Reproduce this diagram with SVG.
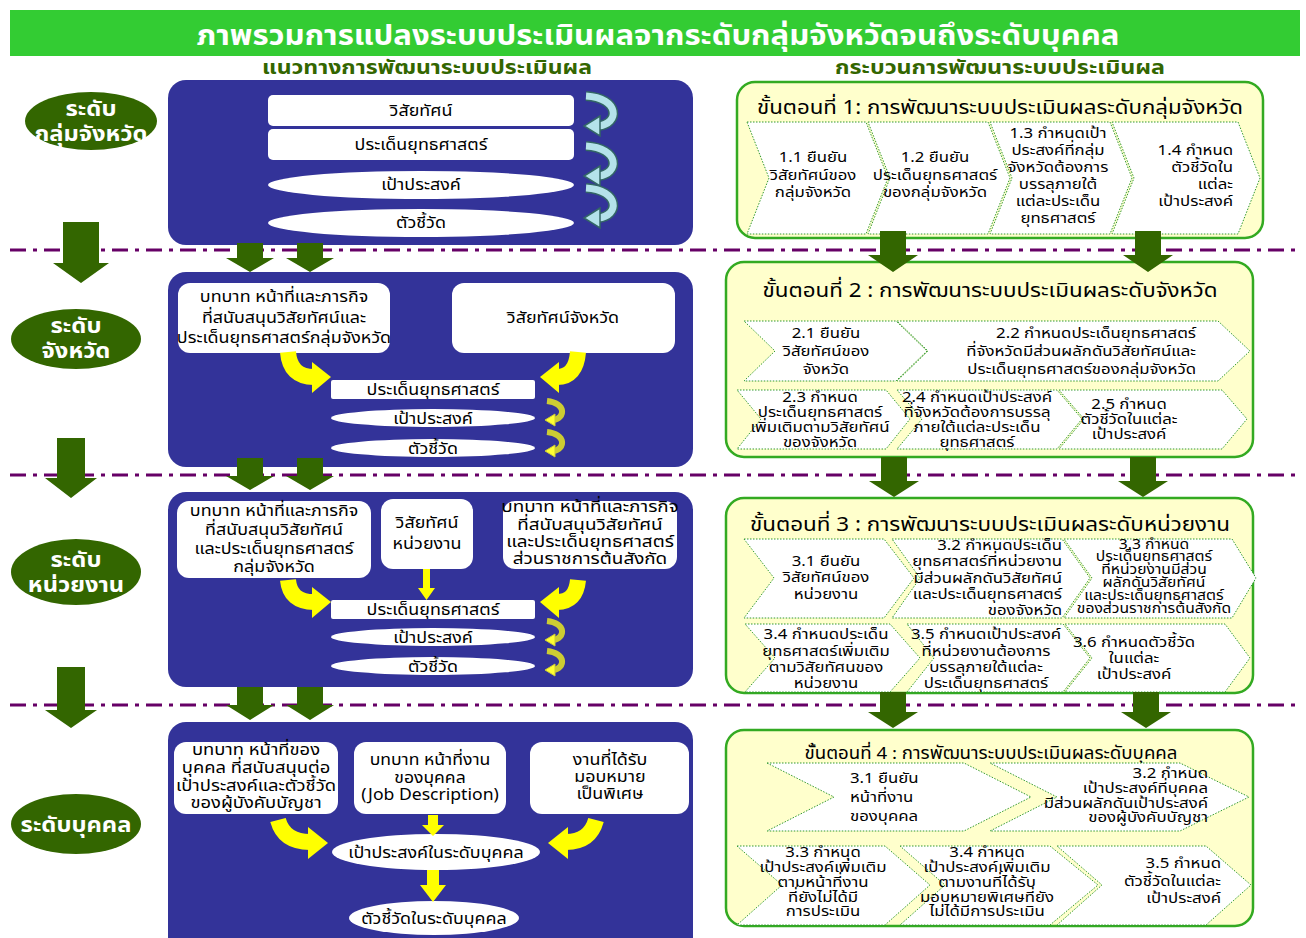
<svg xmlns="http://www.w3.org/2000/svg" width="1306" height="938" viewBox="0 0 1306 938">
<style>
text{font-family:Tahoma,"Noto Sans Thai","Noto Sans","DejaVu Sans",sans-serif;fill:#000}
.blk{fill:#333399}
.wb{fill:#fff}
.lt{font-size:16px;text-anchor:middle}
.step{fill:#ffffcc;stroke:#33aa22;stroke-width:2.5}
.chev{fill:#fff;stroke:#339933;stroke-width:1;stroke-dasharray:1.5 1.5}
.ct{font-size:15px;text-anchor:middle}
.cr{font-size:15px;text-anchor:end}
.cl{font-size:15px;text-anchor:start}
.st{font-size:20px;text-anchor:middle}
.gar{fill:#336600}
.dash{stroke:#660066;stroke-width:3;stroke-dasharray:16 7 4 7;fill:none}
.ya{stroke:#ffff00;fill:none;stroke-width:16}
.yh{fill:#ffff00}
.ys{stroke:#cccc33;fill:none;stroke-width:6}
.ysh{fill:#ffff33;stroke:#cccc33;stroke-width:1}
.bo{stroke:#336666;fill:none;stroke-width:10}
.bi{stroke:#b4e2ea;fill:none;stroke-width:7}
.bh{fill:#b4e2ea;stroke:#336666;stroke-width:1.5}
.lv{fill:#336600}
.lvt{font-size:22px;font-weight:bold;text-anchor:middle;fill:#fff}
.hd{font-size:20px;font-weight:bold;text-anchor:middle;fill:#336600}
</style>

<rect x="10" y="10" width="1290" height="46" fill="#33cc33"/>
<text x="658" y="45" font-size="28" font-weight="bold" text-anchor="middle" textLength="923" lengthAdjust="spacingAndGlyphs" style="fill:#fff">ภาพรวมการแปลงระบบประเมินผลจากระดับกลุ่มจังหวัดจนถึงระดับบุคคล</text>
<text class="hd" x="427" y="74" textLength="330" lengthAdjust="spacingAndGlyphs">แนวทางการพัฒนาระบบประเมินผล</text>
<text class="hd" x="1000" y="74" textLength="330" lengthAdjust="spacingAndGlyphs">กระบวนการพัฒนาระบบประเมินผล</text>

<g id="dividers">
<line class="dash" x1="10" y1="250" x2="1300" y2="250"/>
<line class="dash" x1="10" y1="475" x2="1300" y2="475"/>
<line class="dash" x1="10" y1="705" x2="1300" y2="705"/>
</g>

<g id="level-1"><ellipse class="lv" cx="91" cy="121" rx="66" ry="29"/><g transform="translate(91 0) scale(1.08 1)"><text class="lvt" y="116">ระดับ</text><text class="lvt" y="141">กลุ่มจังหวัด</text></g></g>
<g id="level-2"><ellipse class="lv" cx="76" cy="339" rx="65" ry="30"/><g transform="translate(76 0) scale(1.08 1)"><text class="lvt" y="333">ระดับ</text><text class="lvt" y="358">จังหวัด</text></g></g>
<g id="level-3"><ellipse class="lv" cx="76" cy="572" rx="65" ry="33"/><g transform="translate(76 0) scale(1.08 1)"><text class="lvt" y="567">ระดับ</text><text class="lvt" y="592">หน่วยงาน</text></g></g>
<g id="level-4"><ellipse class="lv" cx="76" cy="824" rx="65" ry="30"/><g transform="translate(76 0) scale(1.08 1)"><text class="lvt" y="832">ระดับบุคคล</text></g></g>

<g id="block-1">
<rect class="blk" x="168" y="80" width="525" height="165" rx="18"/>
<rect class="wb" x="268" y="95" width="306" height="31" rx="5"/>
<rect class="wb" x="268" y="129" width="306" height="31" rx="5"/>
<ellipse class="wb" cx="421" cy="185" rx="153" ry="14"/>
<ellipse class="wb" cx="421" cy="223" rx="153" ry="14"/>
<g transform="translate(421 0) scale(1.12 1)"><text class="lt" y="116">วิสัยทัศน์</text><text class="lt" y="150">ประเด็นยุทธศาสตร์</text><text class="lt" y="190">เป้าประสงค์</text><text class="lt" y="228">ตัวชี้วัด</text></g>
</g>

<g id="block-2">
<rect class="blk" x="168" y="272" width="525" height="195" rx="18"/>
<rect class="wb" x="178" y="283" width="212" height="70" rx="12"/>
<g transform="translate(284 0) scale(1.12 1)"><text class="lt" y="302">บทบาท หน้าที่และภารกิจ</text><text class="lt" y="323">ที่สนับสนุนวิสัยทัศน์และ</text><text class="lt" y="343">ประเด็นยุทธศาสตร์กลุ่มจังหวัด</text></g>
<rect class="wb" x="452" y="283" width="223" height="70" rx="12"/>
<g transform="translate(563 0) scale(1.12 1)"><text class="lt" y="323">วิสัยทัศน์จังหวัด</text></g>
<rect class="wb" x="331" y="380" width="204" height="19" rx="2"/>
<ellipse class="wb" cx="433" cy="418" rx="102" ry="9"/>
<ellipse class="wb" cx="433" cy="448" rx="102" ry="9"/>
<g transform="translate(433 0) scale(1.12 1)"><text class="lt" y="395">ประเด็นยุทธศาสตร์</text><text class="lt" y="424">เป้าประสงค์</text><text class="lt" y="454">ตัวชี้วัด</text></g>
</g>

<g id="block-3">
<rect class="blk" x="168" y="492" width="525" height="195" rx="18"/>
<rect class="wb" x="177" y="501" width="194" height="77" rx="12"/>
<g transform="translate(274 0) scale(1.12 1)"><text class="lt" y="516">บทบาท หน้าที่และภารกิจ</text><text class="lt" y="535">ที่สนับสนุนวิสัยทัศน์</text><text class="lt" y="554">และประเด็นยุทธศาสตร์</text><text class="lt" y="572">กลุ่มจังหวัด</text></g>
<rect class="wb" x="381" y="499" width="92" height="70" rx="12"/>
<g transform="translate(427 0) scale(1.12 1)"><text class="lt" y="528">วิสัยทัศน์</text><text class="lt" y="549">หน่วยงาน</text></g>
<rect class="wb" x="503" y="501" width="174" height="68" rx="12"/>
<g transform="translate(590 0) scale(1.18 1)"><text class="lt" y="512">บทบาท หน้าที่และภารกิจ</text><text class="lt" y="530">ที่สนับสนุนวิสัยทัศน์</text><text class="lt" y="547">และประเด็นยุทธศาสตร์</text><text class="lt" y="564">ส่วนราชการต้นสังกัด</text></g>
<rect class="wb" x="331" y="600" width="204" height="19" rx="2"/>
<ellipse class="wb" cx="433" cy="637" rx="102" ry="9"/>
<ellipse class="wb" cx="433" cy="666" rx="102" ry="9"/>
<g transform="translate(433 0) scale(1.12 1)"><text class="lt" y="615">ประเด็นยุทธศาสตร์</text><text class="lt" y="643">เป้าประสงค์</text><text class="lt" y="672">ตัวชี้วัด</text></g>
</g>

<g id="block-4">
<rect class="blk" x="168" y="722" width="525" height="240" rx="18"/>
<rect class="wb" x="174" y="742" width="164" height="72" rx="12"/>
<g transform="translate(256 0) scale(1.15 1)"><text class="lt" y="755">บทบาท หน้าที่ของ</text><text class="lt" y="773">บุคคล ที่สนับสนุนต่อ</text><text class="lt" y="791">เป้าประสงค์และตัวชี้วัด</text><text class="lt" y="808">ของผู้บังคับบัญชา</text></g>
<rect class="wb" x="354" y="742" width="152" height="72" rx="12"/>
<g transform="translate(430 0) scale(1.1 1)"><text class="lt" y="765">บทบาท หน้าที่งาน</text><text class="lt" y="783">ของบุคคล</text><text class="lt" y="800">(Job Description)</text></g>
<rect class="wb" x="530" y="742" width="159" height="72" rx="12"/>
<g transform="translate(610 0) scale(1.12 1)"><text class="lt" y="765">งานที่ได้รับ</text><text class="lt" y="782">มอบหมาย</text><text class="lt" y="799">เป็นพิเศษ</text></g>
<ellipse class="wb" cx="436" cy="852" rx="104" ry="18"/>
<ellipse class="wb" cx="434" cy="918" rx="85" ry="17"/>
<g transform="translate(436 0) scale(1.12 1)"><text class="lt" y="858" font-size="17">เป้าประสงค์ในระดับบุคคล</text></g>
<g transform="translate(434 0) scale(1.12 1)"><text class="lt" y="924" font-size="17">ตัวชี้วัดในระดับบุคคล</text></g>
</g>

<g id="step-1">
<rect class="step" x="737" y="82" width="526" height="156" rx="18"/>
<text class="st" x="1000" y="114" textLength="486" lengthAdjust="spacingAndGlyphs">ขั้นตอนที่ 1: การพัฒนาระบบประเมินผลระดับกลุ่มจังหวัด</text>
<path class="chev" d="M747 122H866L888 178L866 234H747L769 178Z"/>
<path class="chev" d="M868 122H988L1010 178L988 234H868L890 178Z"/>
<path class="chev" d="M990 122H1110L1132 178L1110 234H990L1012 178Z"/>
<path class="chev" d="M1112 122H1238L1260 178L1238 234H1112L1134 178Z"/>
<g transform="translate(813 0) scale(1.12 1)"><text class="ct" y="162">1.1 ยืนยัน</text><text class="ct" y="180">วิสัยทัศน์ของ</text><text class="ct" y="197">กลุ่มจังหวัด</text></g>
<g transform="translate(935 0) scale(1.12 1)"><text class="ct" y="162">1.2 ยืนยัน</text><text class="ct" y="180">ประเด็นยุทธศาสตร์</text><text class="ct" y="197">ของกลุ่มจังหวัด</text></g>
<g transform="translate(1058 0) scale(1.12 1)"><text class="ct" y="138">1.3 กำหนดเป้า</text><text class="ct" y="155">ประสงค์ที่กลุ่ม</text><text class="ct" y="172">จังหวัดต้องการ</text><text class="ct" y="189">บรรลุภายใต้</text><text class="ct" y="206">แต่ละประเด็น</text><text class="ct" y="223">ยุทธศาสตร์</text></g>
<g transform="translate(1233 0) scale(1.12 1)"><text class="cr" y="155">1.4 กำหนด</text><text class="cr" y="172">ตัวชี้วัดใน</text><text class="cr" y="189">แต่ละ</text><text class="cr" y="206">เป้าประสงค์</text></g>
</g>

<g id="step-2">
<rect class="step" x="726" y="262" width="527" height="195" rx="18"/>
<text class="st" x="990" y="297" textLength="455" lengthAdjust="spacingAndGlyphs">ขั้นตอนที่ 2 : การพัฒนาระบบประเมินผลระดับจังหวัด</text>
<path class="chev" d="M744 321H896L927 351L896 381H744L775 351Z"/>
<path class="chev" d="M897 321H1218L1250 351L1218 381H897L928 351Z"/>
<path class="chev" d="M737 390H886L910 419L886 449H737L761 419Z"/>
<path class="chev" d="M897 390H1057L1082 419L1057 449H897L922 419Z"/>
<path class="chev" d="M1059 390H1222L1247 419L1222 449H1059L1084 419Z"/>
<g transform="translate(826 0) scale(1.12 1)"><text class="ct" y="338">2.1 ยืนยัน</text><text class="ct" y="356">วิสัยทัศน์ของ</text><text class="ct" y="374">จังหวัด</text></g>
<g transform="translate(1196 0) scale(1.12 1)"><text class="cr" y="338">2.2 กำหนดประเด็นยุทธศาสตร์</text><text class="cr" y="356">ที่จังหวัดมีส่วนผลักดันวิสัยทัศน์และ</text><text class="cr" y="374">ประเด็นยุทธศาสตร์ของกลุ่มจังหวัด</text></g>
<g transform="translate(820 0) scale(1.12 1)"><text class="ct" y="402">2.3 กำหนด</text><text class="ct" y="417">ประเด็นยุทธศาสตร์</text><text class="ct" y="432">เพิ่มเติมตามวิสัยทัศน์</text><text class="ct" y="447">ของจังหวัด</text></g>
<g transform="translate(977 0) scale(1.12 1)"><text class="ct" y="402">2.4 กำหนดเป้าประสงค์</text><text class="ct" y="417">ที่จังหวัดต้องการบรรลุ</text><text class="ct" y="432">ภายใต้แต่ละประเด็น</text><text class="ct" y="447">ยุทธศาสตร์</text></g>
<g transform="translate(1129 0) scale(1.12 1)"><text class="ct" y="409">2.5 กำหนด</text><text class="ct" y="424">ตัวชี้วัดในแต่ละ</text><text class="ct" y="439">เป้าประสงค์</text></g>
</g>

<g id="step-3">
<rect class="step" x="726" y="498" width="527" height="195" rx="18"/>
<text class="st" x="990" y="531" textLength="480" lengthAdjust="spacingAndGlyphs">ขั้นตอนที่ 3 : การพัฒนาระบบประเมินผลระดับหน่วยงาน</text>
<path class="chev" d="M744 539H884L914 578L884 618H744L774 578Z"/>
<path class="chev" d="M892 539H1062L1090 578L1062 618H892L920 578Z"/>
<path class="chev" d="M1064 539H1232L1256 578L1232 618H1064L1092 578Z"/>
<path class="chev" d="M745 624H890L920 658L890 692H745L775 658Z"/>
<path class="chev" d="M907 624H1063L1090 658L1063 692H907L934 658Z"/>
<path class="chev" d="M1065 624H1225L1250 658L1225 692H1065L1092 658Z"/>
<g transform="translate(826 0) scale(1.12 1)"><text class="ct" y="566">3.1 ยืนยัน</text><text class="ct" y="582">วิสัยทัศน์ของ</text><text class="ct" y="599">หน่วยงาน</text></g>
<g transform="translate(1062 0) scale(1.12 1)"><text class="cr" y="550">3.2 กำหนดประเด็น</text><text class="cr" y="566">ยุทธศาสตร์ที่หน่วยงาน</text><text class="cr" y="583">มีส่วนผลักดันวิสัยทัศน์</text><text class="cr" y="599">และประเด็นยุทธศาสตร์</text><text class="cr" y="615">ของจังหวัด</text></g>
<g transform="translate(1154 0) scale(1.12 1)" font-size="14"><text class="ct" y="549" style="font-size:14px">3.3 กำหนด</text><text class="ct" y="561" style="font-size:14px">ประเด็นยุทธศาสตร์</text><text class="ct" y="574" style="font-size:14px">ที่หน่วยงานมีส่วน</text><text class="ct" y="587" style="font-size:14px">ผลักดันวิสัยทัศน์</text><text class="ct" y="600" style="font-size:14px">และประเด็นยุทธศาสตร์</text><text class="ct" y="613" style="font-size:14px">ของส่วนราชการต้นสังกัด</text></g>
<g transform="translate(826 0) scale(1.12 1)"><text class="ct" y="639">3.4 กำหนดประเด็น</text><text class="ct" y="656">ยุทธศาสตร์เพิ่มเติม</text><text class="ct" y="672">ตามวิสัยทัศนของ</text><text class="ct" y="688">หน่วยงาน</text></g>
<g transform="translate(986 0) scale(1.12 1)"><text class="ct" y="639">3.5 กำหนดเป้าประสงค์</text><text class="ct" y="656">ที่หน่วยงานต้องการ</text><text class="ct" y="672">บรรลุภายใต้แต่ละ</text><text class="ct" y="688">ประเด็นยุทธศาสตร์</text></g>
<g transform="translate(1134 0) scale(1.12 1)"><text class="ct" y="647">3.6 กำหนดตัวชี้วัด</text><text class="ct" y="663">ในแต่ละ</text><text class="ct" y="679">เป้าประสงค์</text></g>
</g>

<g id="step-4">
<rect class="step" x="726" y="730" width="527" height="196" rx="18"/>
<text class="st" x="991" y="759" style="font-size:17px" textLength="373" lengthAdjust="spacingAndGlyphs">ขั้นตอนที่ 4 : การพัฒนาระบบประเมินผลระดับบุคคล</text>
<path class="chev" d="M767 763H964L1031 797L964 831H767L834 797Z"/>
<path class="chev" d="M990 763H1180L1249 797L1180 831H990L1057 797Z"/>
<path class="chev" d="M737 846H885L930 885L885 925H737L782 885Z"/>
<path class="chev" d="M900 846H1050L1098 885L1050 925H900L945 885Z"/>
<path class="chev" d="M1057 846H1206L1251 885L1206 925H1057L1102 885Z"/>
<g transform="translate(850 0) scale(1.12 1)"><text class="cl" y="783">3.1 ยืนยัน</text><text class="cl" y="802">หน้าที่งาน</text><text class="cl" y="821">ของบุคคล</text></g>
<g transform="translate(1208 0) scale(1.12 1)"><text class="cr" y="778">3.2 กำหนด</text><text class="cr" y="793">เป้าประสงค์ที่บุคคล</text><text class="cr" y="808">มีส่วนผลักดันเป้าประสงค์</text><text class="cr" y="822">ของผู้บังคับบัญชา</text></g>
<g transform="translate(823 0) scale(1.12 1)"><text class="ct" y="857">3.3 กำหนุด</text><text class="ct" y="872">เป้าประสงค์เพิ่มเติม</text><text class="ct" y="887">ตามหน้าที่งาน</text><text class="ct" y="902">ที่ยังไม่ได้มี</text><text class="ct" y="916">การประเมิน</text></g>
<g transform="translate(987 0) scale(1.12 1)"><text class="ct" y="857">3.4 กำหนด</text><text class="ct" y="872">เป้าประสงค์เพิ่มเติม</text><text class="ct" y="887">ตามงานที่ได้รับ</text><text class="ct" y="902">มอบหมายพิเศษที่ยัง</text><text class="ct" y="916">ไม่ได้มีการประเมิน</text></g>
<g transform="translate(1221 0) scale(1.12 1)"><text class="cr" y="868">3.5 กำหนด</text><text class="cr" y="886">ตัวชี้วัดในแต่ละ</text><text class="cr" y="903">เป้าประสงค์</text></g>
</g>

<g id="connectors">
<path class="gar" d="M63 222H99V263H109L81 283L53 263H63Z"/>
<path class="gar" d="M57 438H85V478H97L71 498L45 478H57Z"/>
<path class="gar" d="M57 667H85V710H97L71 728L45 710H57Z"/>
<path class="gar" d="M237 243H263V258H274L250 272L226 258H237Z"/>
<path class="gar" d="M297 243H323V258H334L310 272L286 258H297Z"/>
<path class="gar" d="M237 458H263V476H274L250 490L226 476H237Z"/>
<path class="gar" d="M297 458H323V476H334L310 490L286 476H297Z"/>
<path class="gar" d="M237 687H263V705H274L250 720L226 705H237Z"/>
<path class="gar" d="M297 687H323V705H334L310 720L286 705H297Z"/>
<path class="gar" d="M880 231H906V255H918L893 272L868 255H880Z"/>
<path class="gar" d="M1135 231H1161V255H1173L1148 272L1123 255H1135Z"/>
<path class="gar" d="M881 457H907V481H919L894 497L869 481H881Z"/>
<path class="gar" d="M1130 457H1156V481H1168L1143 497L1118 481H1130Z"/>
<path class="gar" d="M880 692H906V712H918L893 728L868 712H880Z"/>
<path class="gar" d="M1133 692H1159V712H1171L1146 728L1121 712H1133Z"/>
<path class="bo" d="M586 96C620 98 620 124 598 126"/><path class="bi" d="M586 96C620 98 620 124 598 126"/><path class="bh" d="M600 116L584 126L600 136Z"/>
<path class="bo" d="M586 146C620 148 620 174 598 176"/><path class="bi" d="M586 146C620 148 620 174 598 176"/><path class="bh" d="M600 166L584 176L600 186Z"/>
<path class="bo" d="M586 188C620 190 620 216 598 218"/><path class="bi" d="M586 188C620 190 620 216 598 218"/><path class="bh" d="M600 208L584 218L600 228Z"/>
<path class="ya" d="M288 352Q290 377 314 377"/><path class="yh" d="M312 362L331 377L312 393Z"/>
<path class="ya" d="M578 352Q576 377 557 377"/><path class="yh" d="M559 362L540 377L559 393Z"/>
<path class="ys" d="M547 401C566 403 566 418 553 420"/><path class="ysh" d="M555 414L545 420L555 426Z"/>
<path class="ys" d="M547 432C566 434 566 449 553 451"/><path class="ysh" d="M555 445L545 451L555 457Z"/>
<path class="ya" d="M288 580Q290 602 314 602"/><path class="yh" d="M312 587L331 602L312 618Z"/>
<path class="ya" d="M578 580Q576 602 557 602"/><path class="yh" d="M559 587L540 602L559 618Z"/>
<path class="yh" d="M423 569H430V588H435L426.5 600L418 588H423Z"/>
<path class="ys" d="M547 621C566 623 566 638 553 640"/><path class="ysh" d="M555 634L545 640L555 646Z"/>
<path class="ys" d="M547 651C566 653 566 668 553 670"/><path class="ysh" d="M555 664L545 670L555 676Z"/>
<path class="ya" d="M278 820Q284 842 310 842"/><path class="yh" d="M308 827L328 843L308 859Z"/>
<path class="ya" d="M596 820Q590 842 566 842"/><path class="yh" d="M568 827L548 843L568 859Z"/>
<path class="yh" d="M428 815H438V825H444L433 836L422 825H428Z"/>
<path class="yh" d="M427 870H439V885H446L433 902L420 885H427Z"/>
</g>
</svg>
